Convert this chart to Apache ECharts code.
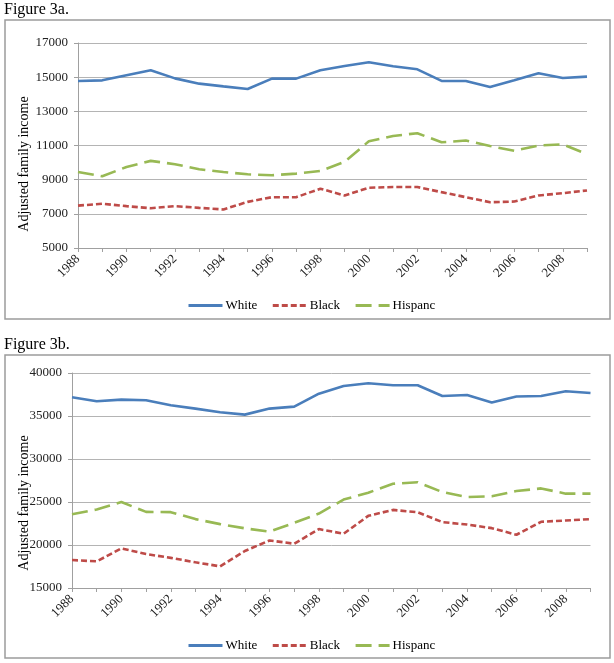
<!DOCTYPE html>
<html><head><meta charset="utf-8">
<script src="https://cdn.jsdelivr.net/npm/echarts@6/dist/echarts.min.js"></script>
<style>html,body{margin:0;padding:0;background:#fff}#c{width:614px;height:663px}</style>
</head><body><div id="c"></div><script>
const years = ['1988','1989','1990','1991','1992','1993','1994','1995','1996','1997','1998','1999','2000','2001','2002','2003','2004','2005','2006','2007','2008','2009'];
const seriesNames = ['White','Black','Hispanc'];
// Figure 3a
const whiteA = [14780,14815,15110,15400,14930,14620,14460,14305,14915,14915,15400,15650,15870,15635,15460,14780,14780,14430,14815,15225,14950,15030];
const blackA = [7480,7590,7450,7330,7450,7350,7255,7700,7975,7975,8470,8075,8530,8570,8570,8270,7975,7680,7720,8075,8210,8370];
const hispA  = [9450,9195,9745,10100,9905,9610,9450,9315,9255,9355,9510,10040,11250,11560,11720,11190,11290,10970,10690,11000,11070,10500];
// Figure 3b
const whiteB = [37170,36710,36900,36830,36250,35860,35430,35160,35860,36090,37600,38490,38800,38570,38570,37330,37440,36560,37260,37330,37870,37680];
const blackB = [18250,18100,19600,18950,18500,17990,17520,19300,20530,20150,21850,21310,23390,24080,23810,22660,22380,21960,21190,22700,22850,23010];
const hispB  = [23580,24130,25000,23850,23820,23010,22430,21940,21550,22580,23660,25280,26080,27120,27300,26150,25580,25660,26270,26580,25970,25970];
const yTitle = 'Adjusted family income';
const figTitles = ['Figure 3a.','Figure 3b.'];

const FONT = '"Liberation Serif", "Times New Roman", serif';
const colors = ['#4A7EBB','#BE4B48','#98B954'];
const dashes = ['solid',[6,3],[16,7]];

function xAxis(gi){
  return {type:'category', gridIndex:gi, data:years, boundaryGap:false,
    axisLine:{lineStyle:{color:'#a0a0a0',width:1}},
    axisTick:{show:true, interval:0, length:4, lineStyle:{color:'#a0a0a0'}},
    axisLabel:{interval:1, rotate:45, margin:9, fontFamily:FONT, fontSize:13, color:'#222'},
    splitLine:{show:false}};
}
function yAxis(gi,min,max,interval){
  return {type:'value', gridIndex:gi, min:min, max:max, interval:interval,
    axisLine:{show:true, lineStyle:{color:'#a0a0a0',width:1}},
    axisTick:{show:true, length:4, lineStyle:{color:'#a0a0a0'}},
    axisLabel:{margin:10, fontFamily:FONT, fontSize:13, color:'#222', formatter:function(v){return String(v);}},
    splitLine:{show:true, lineStyle:{color:'#b4b4b4',width:1}}};
}
function ser(name, data, idx, gi){
  return {name:name, type:'line', xAxisIndex:gi, yAxisIndex:gi, data:data,
    symbol:'none', showSymbol:false, smooth:false,
    lineStyle:{color:colors[idx], width:2.6, type:dashes[idx]},
    itemStyle:{color:colors[idx]}, animation:false};
}
function legend(top){
  return {data:seriesNames, left:182, top:top, itemWidth:34, itemHeight:12, itemGap:14,
    itemStyle:{opacity:0}, lineStyle:{width:3},
    textStyle:{fontFamily:FONT, fontSize:13, color:'#000', padding:[0,0,0,-2]}, selectedMode:false};
}
const chart = echarts.init(document.getElementById('c'), null, {renderer:'canvas'});
chart.setOption({
  backgroundColor:'#fff',
  animation:false,
  grid:[
    {left:78, right:27, top:43, height:205, containLabel:false},
    {left:72, right:23.5, top:373, height:215, containLabel:false}
  ],
  xAxis:[xAxis(0), xAxis(1)],
  yAxis:[yAxis(0,5000,17000,2000), yAxis(1,15000,40000,5000)],
  legend:[legend(294), legend(634)],
  series:[
    ser(seriesNames[0], whiteA, 0, 0), ser(seriesNames[1], blackA, 1, 0), ser(seriesNames[2], hispA, 2, 0),
    ser(seriesNames[0], whiteB, 0, 1), ser(seriesNames[1], blackB, 1, 1), ser(seriesNames[2], hispB, 2, 1)
  ],
  graphic:[
    {type:'rect', shape:{x:5, y:20, width:605, height:299}, style:{fill:'none', stroke:'#9c9c9c', lineWidth:1.5}, silent:true},
    {type:'rect', shape:{x:5, y:355, width:605, height:303}, style:{fill:'none', stroke:'#9c9c9c', lineWidth:1.5}, silent:true},
    {type:'text', x:4, y:2, style:{text:figTitles[0], font:'16px '+FONT, fill:'#000', textAlign:'left', textVerticalAlign:'top'}},
    {type:'text', x:4, y:337, style:{text:figTitles[1], font:'16px '+FONT, fill:'#000', textAlign:'left', textVerticalAlign:'top'}},
    {type:'text', x:24, y:164, rotation:Math.PI/2, style:{text:yTitle, font:'14px '+FONT, fill:'#000', textAlign:'center', textVerticalAlign:'middle'}},
    {type:'text', x:24, y:503, rotation:Math.PI/2, style:{text:yTitle, font:'14px '+FONT, fill:'#000', textAlign:'center', textVerticalAlign:'middle'}}
  ]
});
</script></body></html>
